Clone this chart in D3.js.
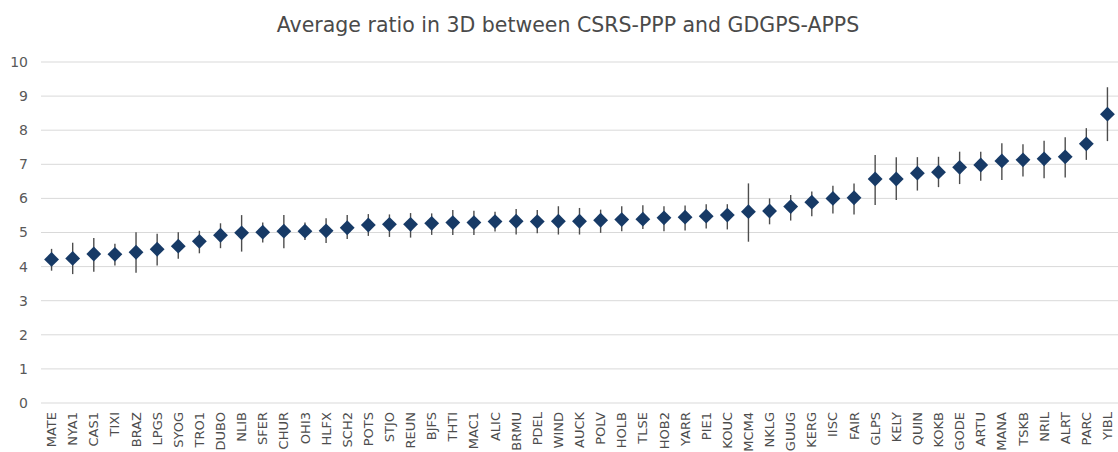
<!DOCTYPE html>
<html>
<head>
<meta charset="utf-8">
<script src="https://cdn.jsdelivr.net/npm/d3@7"></script>
<style>
  html, body { margin: 0; padding: 0; background: #fff; }
  svg { display: block; }
</style>
</head>
<body>
<svg id="chart" width="1118" height="452"></svg>
<script>
// Stations, sorted by mean ratio
const stations = ["MATE","NYA1","CAS1","TIXI","BRAZ","LPGS","SYOG","TRO1","DUBO","NLIB",
  "SFER","CHUR","OHI3","HLFX","SCH2","POTS","STJO","REUN","BJFS","THTI",
  "MAC1","ALIC","BRMU","PDEL","WIND","AUCK","POLV","HOLB","TLSE","HOB2",
  "YARR","PIE1","KOUC","MCM4","NKLG","GUUG","KERG","IISC","FAIR","GLPS",
  "KELY","QUIN","KOKB","GODE","ARTU","MANA","TSKB","NRIL","ALRT","PARC","YIBL"];

// Mean 3D ratio CSRS-PPP / GDGPS-APPS
const ratio = [4.21,4.24,4.37,4.36,4.42,4.51,4.60,4.74,4.92,4.99,
  5.01,5.04,5.04,5.05,5.14,5.22,5.24,5.24,5.27,5.29,
  5.29,5.32,5.33,5.32,5.33,5.33,5.36,5.38,5.39,5.43,
  5.45,5.48,5.51,5.61,5.63,5.76,5.89,6.00,6.02,6.57,
  6.57,6.74,6.77,6.91,6.98,7.10,7.13,7.16,7.22,7.60,8.47];

// Spread above and below the mean
const errUp = [0.31,0.46,0.47,0.31,0.59,0.45,0.41,0.31,0.35,0.52,
  0.28,0.47,0.25,0.37,0.37,0.32,0.29,0.33,0.29,0.37,
  0.35,0.29,0.36,0.34,0.44,0.39,0.31,0.39,0.41,0.34,
  0.34,0.35,0.32,0.83,0.37,0.34,0.31,0.37,0.42,0.70,
  0.64,0.47,0.45,0.46,0.39,0.52,0.46,0.53,0.57,0.46,0.79];
const errDown = [0.33,0.46,0.52,0.33,0.60,0.48,0.37,0.35,0.38,0.55,
  0.30,0.50,0.26,0.36,0.33,0.32,0.37,0.39,0.34,0.36,
  0.36,0.29,0.39,0.34,0.39,0.39,0.37,0.34,0.29,0.39,
  0.39,0.36,0.42,0.88,0.39,0.41,0.41,0.44,0.49,0.76,
  0.62,0.51,0.44,0.49,0.46,0.56,0.49,0.57,0.61,0.47,0.79];

const yTicks = [0,1,2,3,4,5,6,7,8,9,10];
const titleText = "Average ratio in 3D between CSRS-PPP and GDGPS-APPS";

const svg = d3.select("#chart");
const plot = { left: 41, right: 1118, top: 62, bottom: 403 };
const font = "DejaVu Sans, Verdana, sans-serif";

const x = d3.scaleBand().domain(stations).range([plot.left, plot.right]).padding(0);
const y = d3.scaleLinear().domain([0, 10]).range([plot.bottom, plot.top]);

const rows = stations.map((s, i) => ({ s, v: ratio[i], hi: ratio[i] + errUp[i], lo: ratio[i] - errDown[i] }));

// Title
svg.append("text")
  .attr("x", 568).attr("y", 32)
  .attr("text-anchor", "middle")
  .attr("font-family", font)
  .attr("font-size", 20.5)
  .attr("fill", "#4a4a4a")
  .text(titleText);

// Horizontal gridlines
svg.append("g")
  .selectAll("line")
  .data(yTicks)
  .join("line")
  .attr("x1", plot.left).attr("x2", plot.right)
  .attr("y1", d => y(d)).attr("y2", d => y(d))
  .attr("stroke", "#d9d9d9").attr("stroke-width", 1);

// Y axis labels
const yAxis = d3.axisLeft(y).tickValues(yTicks).tickSize(0).tickPadding(0);
const yg = svg.append("g").attr("transform", "translate(28,0)").call(yAxis);
yg.select(".domain").remove();
yg.selectAll("text")
  .attr("font-family", font)
  .attr("font-size", 14)
  .attr("fill", "#595959");

// X axis labels, rotated
const xAxis = d3.axisBottom(x).tickSize(0).tickPadding(0);
const xg = svg.append("g").attr("transform", `translate(0,${plot.bottom})`).call(xAxis);
xg.select(".domain").remove();
xg.selectAll("text")
  .attr("font-family", font)
  .attr("font-size", 13)
  .attr("fill", "#4d4d4d")
  .attr("text-anchor", "end")
  .attr("transform", "rotate(-90)")
  .attr("x", -9)
  .attr("y", 0)
  .attr("dy", "0.35em");

// Error bars
svg.append("g")
  .selectAll("line")
  .data(rows)
  .join("line")
  .attr("x1", d => x(d.s) + x.bandwidth() / 2)
  .attr("x2", d => x(d.s) + x.bandwidth() / 2)
  .attr("y1", d => y(d.hi))
  .attr("y2", d => y(d.lo))
  .attr("stroke", "#4d4d4d").attr("stroke-width", 1.4);

// Diamond markers
const diamond = d3.symbol().type(d3.symbolSquare).size(110);
svg.append("g")
  .selectAll("path")
  .data(rows)
  .join("path")
  .attr("d", diamond)
  .attr("transform", d => `translate(${x(d.s) + x.bandwidth() / 2},${y(d.v)}) rotate(45)`)
  .attr("fill", "#173a66");
</script>
</body>
</html>
